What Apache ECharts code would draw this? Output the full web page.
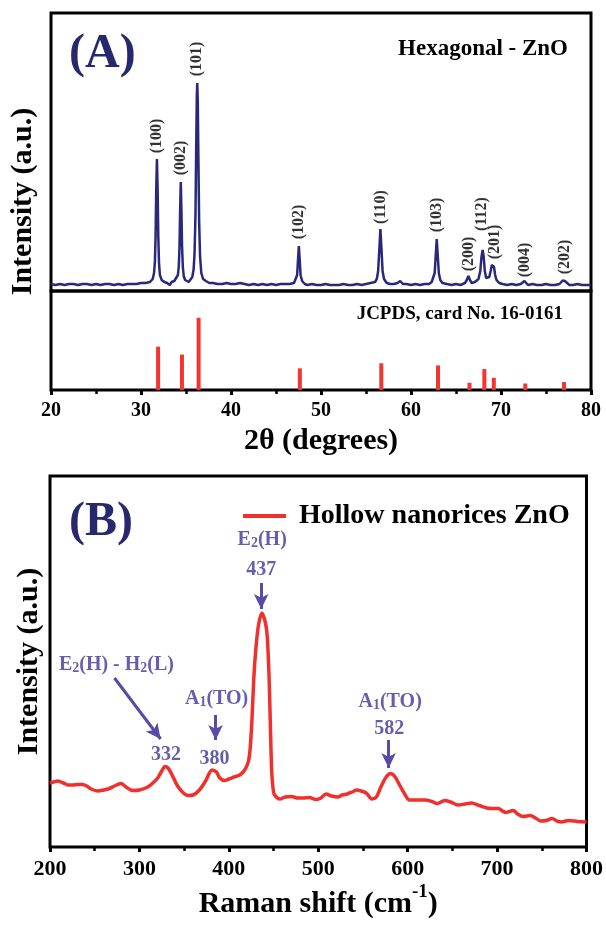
<!DOCTYPE html>
<html><head><meta charset="utf-8">
<script src="https://cdn.jsdelivr.net/npm/echarts@6/dist/echarts.min.js"></script>
<style>html,body{margin:0;padding:0;background:#fff;}#c{width:606px;height:926px;}</style>
</head><body><div id="c"></div>
<script>
const FONT = '"Liberation Serif","Times New Roman",serif';

// ---- Panel A: XRD pattern (2θ, intensity a.u.) ----
const xrdPattern = [
[20,7],[20.5,6],[21,7],[21.5,6],[22,7],[22.5,7],[23,6],[23.5,7],[24,7],[24.5,6],[25,7],[25.5,6],[26,7],[26.5,7],[27,6],[27.5,7],[28,6],[28.5,7],[29,7],[29.5,7],[30,8],[30.5,8],
[31.0,9],[31.3,12],[31.45,18],[31.55,30],[31.62,55],[31.69,100],[31.77,132],[31.85,100],[31.92,55],[32.0,28],[32.1,16],[32.3,11],[32.6,9],
[32.9,8],[33.1,10],[33.2,6],[33.4,9],[33.7,10],
[33.9,11],[34.1,16],[34.2,25],[34.28,45],[34.35,82],[34.42,109],[34.49,82],[34.56,45],[34.65,24],[34.75,15],[34.9,11],[35.1,10],[35.3,9],[35.5,11],
[35.7,14],[35.85,22],[35.95,38],[36.05,75],[36.13,140],[36.2,195],[36.25,208],[36.31,190],[36.38,130],[36.46,70],[36.56,35],[36.7,18],[36.9,12],[37.2,10],[37.6,8],[38.0,8],[38.5,7],
[39,7],[39.5,8],[40,7],[40.5,7],[41,8],[41.5,7],[42,6],[42.5,7],[43,6],[43.5,7],[44,6],[44.5,7],[45,6],[45.5,7],[46,7],[46.5,7],[47,8],
[47.2,10],[47.35,16],[47.45,32],[47.54,45],[47.63,32],[47.73,16],[47.9,10],[48.2,7],
[48.5,6],[49,7],[49.5,6],[50,6],[50.5,7],[51,6],[51.5,6],[52,6],[52.5,7],[53,6],[53.5,6],[54,7],[54.5,6],[55,7],[55.5,8],[56,9],
[56.2,12],[56.35,20],[56.47,40],[56.6,62],[56.72,42],[56.84,20],[57.0,12],[57.3,8],[57.7,7],[58.1,7],[58.5,8],[58.8,10],[59.1,7],[59.5,7],[60,6],[60.5,7],[61,6],[61.5,7],[62,7],[62.3,9],
[62.5,11],[62.63,18],[62.75,36],[62.86,52],[62.97,36],[63.09,18],[63.25,11],[63.5,8],[64,7],[64.5,6],[65,7],[65.5,6],[66,8],
[66.2,11],[66.38,15],[66.55,11],[66.75,8],[67.1,9],[67.5,12],
[67.7,20],[67.83,34],[67.96,41],[68.08,34],[68.2,20],[68.35,13],[68.5,12],
[68.7,14],[68.85,20],[68.98,26],[69.1,28],[69.22,24],[69.35,16],[69.5,11],[69.8,8],[70.2,7],[70.7,6],[71.2,7],[71.7,6],[72.2,7],
[72.4,8],[72.6,10],[72.8,8],[73,6],[73.5,7],[74,6],[74.5,6],[75,7],[75.5,6],[76,6],[76.5,7],
[76.7,8],[76.85,10.5],[76.95,11],[77.1,10],[77.3,8],[77.6,6],[78,6],[78.5,7],[79,6],[79.5,6],[80,6]
];
const hklNames = ['(100)','(002)','(101)','(102)','(110)','(103)','(200)','(112)','(201)','(004)','(202)'];
const hklLabelAt = [[31.77,155],[34.42,133],[36.25,232],[47.54,69],[56.6,84],[62.9,76],[66.4,37],[67.9,77],[69.3,49],[72.6,31],[77.05,34]];

// ---- JCPDS reference card 16-0161 ----
const jcpdsPos = [31.9,34.55,36.4,47.65,56.7,63.0,66.5,68.15,69.2,72.7,77.0];
const jcpdsInt = [60,49,100,30,37,34,10,29,17,9,11];

// ---- Panel B: Raman spectrum ----
const ramanSpectrum = [
[200,64],[204,65],[208.6,66],[215,64],[220,62],[225.7,62],[231,62.5],[236.4,62.5],[241,61],[246,58],[253.6,56],[260,57],[266.4,58.5],[272,61],[279.3,63.5],[285,60],[292.2,56.5],[300,57],[309.3,60],[315,64],[320,68.5],[325,76],[328.6,80.5],[332,79],[336,73],[341.4,63],[347,56],[354.3,51.5],[360,52],[367.1,57],[374,66],[381.3,77],[386,75],[390,69],[395,66.5],[400,68],[406,70],[412.2,72],[416,75],[419,79],[422,86],[424,100],[426,130],[428,170],[430,196],[433,221],[437,234],[441,224],[443,210],[445,170],[446.5,120],[448,75],[450,55],[452,51],[457,48],[463,50],[470,50.5],[477,49],[483,49],[490,49.5],[498,47.5],[503,49],[508.6,53],[515,51],[521.5,50],[527,52],[532.2,53],[538,55],[543,57],[548,56],[553.6,54],[560,48],[565,50],[570,60],[576,70],[581,73.5],[586,70],[591,62],[596,54],[602,47],[610,47],[620,47],[627,45.5],[633,43.5],[641.5,46.5],[648,45],[656.5,42],[664,43],[671.5,44],[680,41.5],[688.6,39],[695,38.5],[701.5,38.5],[706,36],[710,34.5],[718,36.5],[723,33],[729,30.5],[737,31.5],[743,29],[748.6,26],[755,26.5],[761.5,28.5],[767,26],[772,25],[780,26.5],[790,25.5],[800,25]
];
const ramanNoteText = ['{b|E}{s|2}{b|(H) - H}{s|2}{b|(L)}','{b|332}','{b|A}{s|1}{b|(TO)}','{b|380}','{b|A}{s|1}{b|(TO)}','{b|582}','{b|E}{s|2}{b|(H)}','{b|437}'];
const ramanNoteAt = [[274.3,184],[329.8,94],[386.3,150],[384.1,90],[580.4,147],[579.3,120],[437.3,309],[436.2,279]];
const ramanArrows = [[[436.2,264],[436.2,238]],[[385.2,132],[385.2,107]],[[578.7,107],[578.7,79]],[[272.1,169],[323.7,108]]];

const NAVY = '#28286e', NOTE = '#3f3796', ARROW = '#5a4aa8';
const tickStyle = {show:true, inside:false, length:5, lineStyle:{color:'#000', width:3}};
const minorStyle = {show:true, splitNumber:2, length:4, lineStyle:{color:'#000', width:2.5}};
const borderGrid = {show:true, borderColor:'#000', borderWidth:3, backgroundColor:'transparent'};

const chart = echarts.init(document.getElementById('c'), null, {renderer:'canvas'});
chart.setOption({
  animation:false,
  backgroundColor:'#fff',
  textStyle:{fontFamily:FONT},
  grid:[
    Object.assign({left:51, right:15, top:13, height:278}, borderGrid),
    Object.assign({left:51, right:15, top:291, height:99}, borderGrid),
    Object.assign({left:50, right:15, top:476, height:371}, borderGrid),
    {left:51, right:15, top:13, height:377, show:false}
  ],
  legend:{
    data:['Hollow nanorices ZnO'], left:238, top:496, icon:'rect', itemWidth:43, itemHeight:4,
    textStyle:{fontFamily:FONT, fontSize:28, fontWeight:'bold', color:'#000', lineHeight:30, padding:[0,0,0,8]}
  },
  xAxis:[
    {gridIndex:0, type:'value', min:20, max:80, interval:10, axisLine:{show:false}, axisTick:{show:false}, axisLabel:{show:false}, splitLine:{show:false}},
    {gridIndex:1, type:'value', min:20, max:80, interval:10, axisLine:{show:false}, axisTick:tickStyle, minorTick:minorStyle, splitLine:{show:false}, minorSplitLine:{show:false},
     axisLabel:{fontFamily:FONT, fontSize:20, fontWeight:'bold', color:'#000', margin:11},
     name:'2θ (degrees)', nameLocation:'middle', nameGap:36,
     nameTextStyle:{fontFamily:FONT, fontSize:30, fontWeight:'bold', color:'#000', lineHeight:30}},
    {gridIndex:2, type:'value', min:200, max:800, interval:100, axisLine:{show:false}, axisTick:tickStyle, minorTick:minorStyle, splitLine:{show:false}, minorSplitLine:{show:false},
     axisLabel:{fontFamily:FONT, fontSize:22, fontWeight:'bold', color:'#000', margin:11},
     name:'{t|Raman shift (cm}{sup|-1}{t|)}', nameLocation:'middle', nameGap:36,
     nameTextStyle:{rich:{
       t:{fontFamily:FONT, fontSize:30, fontWeight:'bold', color:'#000', lineHeight:36, verticalAlign:'bottom'},
       sup:{fontFamily:FONT, fontSize:19, fontWeight:'bold', color:'#000', lineHeight:16, verticalAlign:'top'}}}},
    {gridIndex:3, type:'value', min:0, max:1, show:false}
  ],
  yAxis:[
    {gridIndex:0, type:'value', min:0, max:278, show:false},
    {gridIndex:1, type:'value', min:0, max:137, show:false},
    {gridIndex:2, type:'value', min:0, max:371, axisLine:{show:false}, axisTick:{show:false}, axisLabel:{show:false}, splitLine:{show:false},
     name:'Intensity (a.u.)', nameLocation:'middle', nameGap:6,
     nameTextStyle:{fontFamily:FONT, fontSize:30, fontWeight:'bold', color:'#000', lineHeight:30}},
    {gridIndex:3, type:'value', min:0, max:1, axisLine:{show:false}, axisTick:{show:false}, axisLabel:{show:false}, splitLine:{show:false},
     name:'Intensity (a.u.)', nameLocation:'middle', nameGap:13,
     nameTextStyle:{fontFamily:FONT, fontSize:30, fontWeight:'bold', color:'#000', lineHeight:30}}
  ],
  graphic:[
    {type:'text', left:69, top:31, style:{text:'(A)', fill:NAVY, font:'bold 48px '+FONT}},
    {type:'text', right:38, top:38, style:{text:'Hexagonal - ZnO', fill:'#000', font:'bold 23px '+FONT}},
    {type:'text', right:43, top:305, style:{text:'JCPDS, card No. 16-0161', fill:'#000', font:'bold 19px '+FONT}},
    {type:'text', left:69, top:499, style:{text:'(B)', fill:NAVY, font:'bold 48px '+FONT}}
  ],
  series:[
    {type:'line', xAxisIndex:0, yAxisIndex:0, data:xrdPattern, showSymbol:false, smooth:false,
     lineStyle:{color:'#29287a', width:2.5}, itemStyle:{color:'#29287a'}},
    {type:'scatter', xAxisIndex:0, yAxisIndex:0, symbolSize:1, itemStyle:{color:'transparent'},
     data:hklLabelAt.map((p,i)=>({value:p, name:hklNames[i]})),
     label:{show:true, position:'inside', rotate:90, formatter:'{b}', fontFamily:FONT, fontSize:16, fontWeight:'bold', color:'#000'}},
    {type:'bar', xAxisIndex:1, yAxisIndex:1, barWidth:4, data:jcpdsPos.map((x,i)=>[x,jcpdsInt[i]]),
     itemStyle:{color:'#f2352f'}},
    {type:'line', name:'Hollow nanorices ZnO', xAxisIndex:2, yAxisIndex:2, data:ramanSpectrum, showSymbol:false, smooth:0.3,
     lineStyle:{color:'#f0302c', width:3.5}, itemStyle:{color:'#f0302c'},
     markLine:{silent:true, symbol:['none','arrow'], symbolSize:[11,15], label:{show:false},
       lineStyle:{color:ARROW, width:3, type:'solid'},
       data:ramanArrows.map(a=>[{coord:a[0]},{coord:a[1]}])}},
    {type:'scatter', xAxisIndex:2, yAxisIndex:2, symbolSize:1, itemStyle:{color:'transparent'},
     data:ramanNoteAt.map((p,i)=>({value:p, name:ramanNoteText[i]})),
     label:{show:true, position:'inside', formatter:'{b}',
       rich:{b:{fontFamily:FONT, fontSize:20, fontWeight:'bold', color:NOTE, lineHeight:24, verticalAlign:'bottom'},
             s:{fontFamily:FONT, fontSize:14, fontWeight:'bold', color:NOTE, lineHeight:10, verticalAlign:'bottom'}}}}
  ]
});
</script></body></html>
